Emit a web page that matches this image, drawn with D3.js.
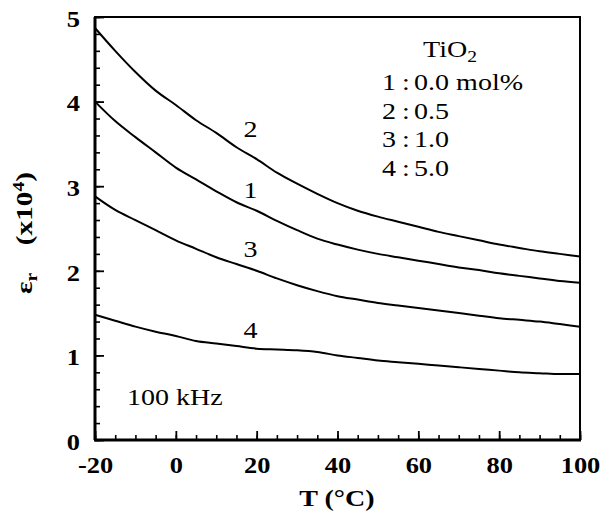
<!DOCTYPE html>
<html>
<head>
<meta charset="utf-8">
<script src="https://cdnjs.cloudflare.com/ajax/libs/d3/7.8.5/d3.min.js"></script>
<style>
  body { margin: 0; background: #fff; }
  text { font-family: "Liberation Serif", "Times New Roman", Times, serif; fill: #000; }
</style>
</head>
<body>
<div id="chart"></div>
<script>
// temperature (°C)
var temps = [-20, -15, -10, -5, 0, 5, 10, 15, 20, 25, 30, 35, 40, 45, 50, 55, 60, 65, 70, 75, 80, 85, 90, 95, 100];

// eps_r (x10^4) for each TiO2 content
var eps1 = [4.00, 3.77, 3.58, 3.40, 3.22, 3.08, 2.94, 2.81, 2.71, 2.59, 2.48, 2.38, 2.31, 2.25, 2.20, 2.16, 2.12, 2.08, 2.04, 2.01, 1.97, 1.94, 1.91, 1.88, 1.86];
var eps2 = [4.87, 4.60, 4.35, 4.13, 3.96, 3.78, 3.63, 3.46, 3.32, 3.16, 3.03, 2.91, 2.80, 2.71, 2.64, 2.58, 2.52, 2.46, 2.41, 2.36, 2.31, 2.27, 2.23, 2.20, 2.17];
var eps3 = [2.88, 2.72, 2.60, 2.48, 2.36, 2.26, 2.16, 2.08, 2.00, 1.91, 1.83, 1.76, 1.70, 1.66, 1.62, 1.59, 1.56, 1.53, 1.50, 1.47, 1.44, 1.42, 1.40, 1.37, 1.34];
var eps4 = [1.48, 1.41, 1.34, 1.28, 1.23, 1.17, 1.14, 1.11, 1.08, 1.07, 1.06, 1.04, 1.00, 0.97, 0.94, 0.92, 0.90, 0.88, 0.86, 0.84, 0.82, 0.80, 0.79, 0.78, 0.78];

var curveNames = ["1", "2", "3", "4"];
var curveValues = [eps1, eps2, eps3, eps4];

// labels next to the curves (T, eps)
var labelT = [18.5, 18.5, 18.5, 18.5];
var labelEps = [2.95, 3.67, 2.25, 1.30];

// legend
var legendTitle = "TiO";
var legendNums = ["1", "2", "3", "4"];
var legendVals = ["0.0 mol%", "0.5", "1.0", "5.0"];

var xMajor = [-20, 0, 20, 40, 60, 80, 100];
var xMinor = d3.range(-20, 101, 5);
var yMajor = [0, 1, 2, 3, 4, 5];
var yMinor = d3.range(0, 5.01, 0.2);

var W = 602, H = 516;
var mLeft = 95, mRight = 580, mTop = 17, mBottom = 440;
var sx = 1.15; // glyphs in the figure are a bit stretched horizontally
var sxt = 1.22;

var svg = d3.select("#chart").append("svg")
  .attr("width", W)
  .attr("height", H);

svg.append("rect").attr("width", W).attr("height", H).attr("fill", "#fff");

var x = d3.scaleLinear().domain([-20, 100]).range([mLeft, mRight]);
var y = d3.scaleLinear().domain([0, 5]).range([mBottom, mTop]);

// minor ticks (inside)
svg.append("g")
  .attr("transform", "translate(0," + mBottom + ")")
  .call(d3.axisBottom(x).tickValues(xMinor).tickSize(-5).tickFormat(""))
  .call(function(g) { g.select(".domain").remove(); g.selectAll("line").attr("stroke-width", 1.6); });

svg.append("g")
  .attr("transform", "translate(" + mLeft + ",0)")
  .call(d3.axisLeft(y).tickValues(yMinor).tickSize(-5).tickFormat(""))
  .call(function(g) { g.select(".domain").remove(); g.selectAll("line").attr("stroke-width", 1.6); });

// major ticks + labels
var xAxis = svg.append("g")
  .attr("transform", "translate(0," + mBottom + ")")
  .call(d3.axisBottom(x).tickValues(xMajor).tickFormat(function(d) { return String(d); })
    .tickSizeInner(-9).tickSizeOuter(0).tickPadding(17));
xAxis.select(".domain").remove();
xAxis.selectAll("line").attr("stroke-width", 1.8);
xAxis.selectAll("text")
  .attr("font-size", 23)
  .attr("font-weight", "bold")
  .attr("transform", "scale(" + sx + ",1)");

var yAxis = svg.append("g")
  .attr("transform", "translate(" + mLeft + ",0)")
  .call(d3.axisLeft(y).tickValues(yMajor).tickFormat(d3.format("d")).tickSizeInner(-9).tickSizeOuter(0).tickPadding(13));
yAxis.select(".domain").remove();
yAxis.selectAll("line").attr("stroke-width", 1.8);
yAxis.selectAll("text")
  .attr("font-size", 23)
  .attr("font-weight", "bold")
  .attr("dy", "0.4em")
  .attr("transform", "scale(" + sx + ",1)");

// frame
svg.append("rect")
  .attr("x", mLeft).attr("y", mTop)
  .attr("width", mRight - mLeft).attr("height", mBottom - mTop)
  .attr("fill", "none").attr("stroke", "#000").attr("stroke-width", 2);
svg.append("line")
  .attr("x1", mLeft - 1).attr("x2", mRight + 1).attr("y1", mBottom).attr("y2", mBottom)
  .attr("stroke", "#000").attr("stroke-width", 3);
svg.append("line")
  .attr("x1", mLeft).attr("x2", mLeft).attr("y1", mTop).attr("y2", mBottom)
  .attr("stroke", "#000").attr("stroke-width", 3);

// curves
var line = d3.line()
  .x(function(d) { return x(d[0]); })
  .y(function(d) { return y(d[1]); })
  .curve(d3.curveMonotoneX);

curveValues.forEach(function(vals) {
  svg.append("path")
    .datum(temps.map(function(t, i) { return [t, vals[i]]; }))
    .attr("fill", "none")
    .attr("stroke", "#000")
    .attr("stroke-width", 2)
    .attr("d", line);
});

// curve numbers
curveNames.forEach(function(n, i) {
  svg.append("text")
    .attr("transform", "translate(" + x(labelT[i]) + "," + (y(labelEps[i]) + 7.5) + ") scale(" + sxt + ",1)")
    .attr("text-anchor", "middle")
    .attr("font-size", 23)
    .text(n);
});

// legend
var lg = svg.append("g");
lg.append("text")
  .attr("transform", "translate(423,57) scale(" + sxt + ",1)")
  .attr("font-size", 23)
  .text(legendTitle)
  .append("tspan").attr("font-size", 16).attr("dy", 5).text("2");
legendNums.forEach(function(n, i) {
  var yy = 90 + i * 28.5;
  lg.append("text")
    .attr("transform", "translate(382," + yy + ") scale(" + sxt + ",1)")
    .attr("font-size", 23)
    .text(n);
  lg.append("text")
    .attr("transform", "translate(402," + yy + ") scale(" + sxt + ",1)")
    .attr("font-size", 23)
    .text(":");
  lg.append("text")
    .attr("transform", "translate(414," + yy + ") scale(" + sxt + ",1)")
    .attr("font-size", 23)
    .text(legendVals[i]);
});

// frequency note
svg.append("text")
  .attr("transform", "translate(127,405) scale(" + sxt + ",1)")
  .attr("font-size", 23)
  .text("100 kHz");

// axis titles
svg.append("text")
  .attr("transform", "translate(337,506) scale(" + sxt + ",1)")
  .attr("text-anchor", "middle")
  .attr("font-size", 23)
  .attr("font-weight", "bold")
  .text("T (°C)");

var yt1 = svg.append("text")
  .attr("transform", "translate(32,294) rotate(-90) scale(" + sxt + ",1)")
  .attr("text-anchor", "start")
  .attr("font-size", 24)
  .attr("font-weight", "bold");
yt1.append("tspan").text("ε");
yt1.append("tspan").attr("font-size", 16).attr("dy", 5).text("r");

var yt2 = svg.append("text")
  .attr("transform", "translate(32,172) rotate(-90) scale(" + sxt + ",1)")
  .attr("text-anchor", "end")
  .attr("font-size", 24)
  .attr("font-weight", "bold");
yt2.append("tspan").text("(x10");
yt2.append("tspan").attr("font-size", 16).attr("dy", -8).text("4");
yt2.append("tspan").attr("dy", 8).text(")");
</script>
</body>
</html>
